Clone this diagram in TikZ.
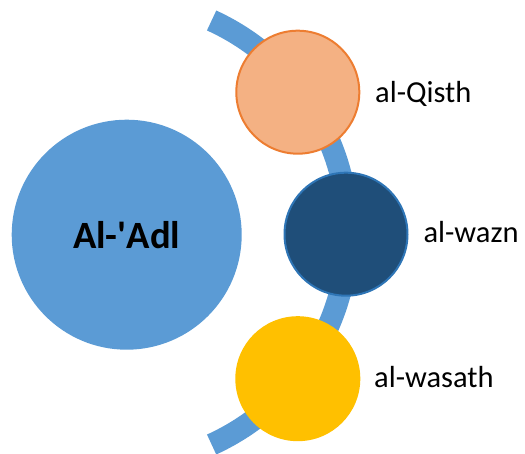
\documentclass[tikz,border=0pt]{standalone}
\usepackage{fontspec}
\setmainfont{Carlito}
\definecolor{bandblue}{HTML}{5B9BD5}
\definecolor{peach}{HTML}{F4B183}
\definecolor{peachline}{HTML}{ED7D31}
\definecolor{navy}{HTML}{1F4E79}
\definecolor{navyline}{HTML}{2E75B6}
\definecolor{gold}{HTML}{FFC000}
\tikzset{
  item/.style={circle, minimum size=123pt, inner sep=0pt, line width=2pt},
  label/.style={anchor=base west, inner sep=0pt, font=\fontsize{30.5}{34}\selectfont},
}
\begin{document}
\begin{tikzpicture}[x=1pt, y=-1pt]
  \useasboundingbox (0,0) rectangle (525,454);
  % curved band behind the small circles
  \coordinate (c) at (115,232.5);
  \draw[bandblue, line width=22pt] ([shift={(-65.5:233pt)}]c) arc[start angle=-65.5, end angle=65.5, radius=233pt];
  % main circle
  \node[circle, fill=bandblue, minimum size=230pt, inner sep=0pt,
        font=\bfseries\fontsize{38.6}{42}\selectfont] (adl) at (126.7,234.7) {Al-\textquotesingle Adl};
  % the three small circles
  \node[item, fill=peach, draw=peachline] (qisth) at (297.8,92.2) {};
  \node[item, fill=navy, draw=navyline] (wazn) at (346,234.2) {};
  \node[item, fill=gold, draw=gold] (wasath) at (297.8,378.7) {};
  % labels
  \node[label] (lq) at (375,102.7) {al-Qisth};
  \node[label] (lz) at (423.3,242.3) {al-wazn};
  \node[label] (ls) at (374,387.3) {al-wasath};
\end{tikzpicture}
\end{document}
